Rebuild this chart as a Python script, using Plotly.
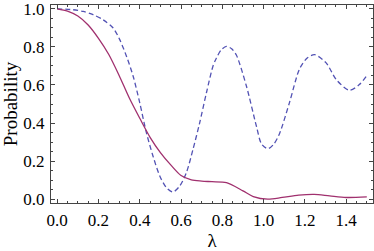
import plotly.graph_objects as go

# Solid curve (magenta)
lam_solid = [0, 0.05, 0.1, 0.15, 0.2, 0.25, 0.3, 0.35, 0.4, 0.45, 0.5,
             0.55, 0.6, 0.65, 0.7, 0.75, 0.82, 0.9, 0.95, 1.02, 1.09,
             1.17, 1.245, 1.32, 1.4, 1.5]
prob_solid = [1.0, 0.988, 0.962, 0.915, 0.845, 0.76, 0.65, 0.53, 0.425, 0.325, 0.245,
              0.18, 0.124, 0.101, 0.095, 0.092, 0.087, 0.044, 0.014, 0.0, 0.009,
              0.021, 0.025, 0.017, 0.009, 0.012]

# Dashed curve (blue)
lam_dashed = [0, 0.077, 0.126, 0.174, 0.223, 0.271, 0.303, 0.336, 0.368, 0.40, 0.432,
              0.464, 0.497, 0.529, 0.561, 0.594, 0.626, 0.658, 0.69, 0.723, 0.755,
              0.771, 0.795, 0.82, 0.845, 0.868, 0.917, 0.965, 0.99, 1.021, 1.05,
              1.077, 1.126, 1.174, 1.21, 1.247, 1.303, 1.352, 1.416, 1.464, 1.5]
prob_dashed = [1.0, 0.995, 0.986, 0.969, 0.942, 0.899, 0.838, 0.75, 0.646, 0.506, 0.35,
               0.227, 0.122, 0.061, 0.038, 0.07, 0.14, 0.262, 0.40, 0.559, 0.70,
               0.74, 0.785, 0.803, 0.79, 0.757, 0.593, 0.384, 0.29, 0.265, 0.29,
               0.344, 0.51, 0.684, 0.74, 0.759, 0.716, 0.628, 0.572, 0.602, 0.649]

x_ticks = [0.0, 0.2, 0.4, 0.6, 0.8, 1.0, 1.2, 1.4]
y_ticks = [0.0, 0.2, 0.4, 0.6, 0.8, 1.0]

fig = go.Figure()
fig.add_trace(go.Scatter(x=lam_dashed, y=prob_dashed, mode="lines", line_shape="spline",
                         line=dict(color="#5252b4", width=1.3, dash="5px,3px", smoothing=0.8),
                         showlegend=False, hoverinfo="skip"))
fig.add_trace(go.Scatter(x=lam_solid, y=prob_solid, mode="lines", line_shape="spline",
                         line=dict(color="#a0306e", width=1.3, smoothing=0.8),
                         showlegend=False, hoverinfo="skip"))

axis_common = dict(
    showgrid=False, zeroline=False, showline=True, linecolor="#444", linewidth=1,
    mirror="ticks", ticks="inside", ticklen=4, tickcolor="#444", tickwidth=1,
    tickformat=".1f", ticklabeloverflow="allow",
    tickfont=dict(family="Liberation Serif", size=17, color="black"),
    minor=dict(ticks="inside", ticklen=2, dtick=0.05, tickcolor="#444", tickwidth=1, showgrid=False),
)

fig.update_xaxes(range=[-0.03, 1.53], tickvals=x_ticks,
                 title=dict(text="λ", font=dict(family="Liberation Serif", size=19, color="black"), standoff=6),
                 ticklabelstandoff=2, **axis_common)
fig.update_yaxes(range=[-0.02, 1.02], tickvals=y_ticks,
                 title=dict(text="Probability", font=dict(family="Liberation Serif", size=19, color="black"), standoff=2),
                 ticklabelstandoff=2, **axis_common)

fig.update_layout(width=374, height=251, margin=dict(l=51, r=1, t=5, b=48, autoexpand=False),
                  plot_bgcolor="white", paper_bgcolor="white")

fig.write_html("out.html", config={"displayModeBar": False, "staticPlot": True},
               post_script="document.body.style.margin='0';document.body.style.overflow='hidden';")
